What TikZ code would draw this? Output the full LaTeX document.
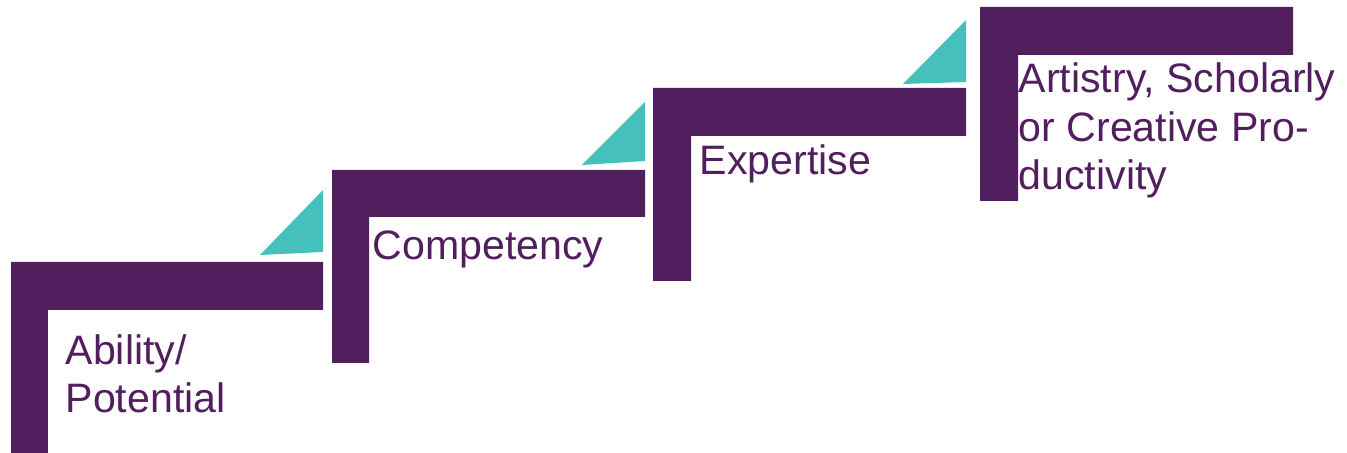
\documentclass[tikz,border=0pt]{standalone}
\usepackage{fontspec}
\setmainfont{Liberation Sans}

\definecolor{steppurple}{HTML}{521F5E}
\definecolor{stepteal}{HTML}{45C0BC}

\tikzset{
  stair/.style={fill=steppurple},
  riser/.style={fill=stepteal},
  steplabel/.style={anchor=base west, inner sep=0pt, align=left,
    text=steppurple, font=\fontsize{11.7}{13.9}\selectfont},
}

\begin{document}
\begin{tikzpicture}

\useasboundingbox (0,0) rectangle (13.47,4.53);

% step 1: ability
\fill[stair] (0.11,0) -- (0.11,1.91) -- (3.23,1.91) -- (3.23,1.43) -- (0.48,1.43) -- (0.48,0) -- cycle;
\fill[riser] (2.60,1.98) -- (3.23,2.63) -- (3.23,2.01) -- cycle;
\node[steplabel] (ability) at (0.65,0.40) {Ability/\\Potential};

% step 2: competency
\fill[stair] (3.32,0.90) -- (3.32,2.83) -- (6.45,2.83) -- (6.45,2.36) -- (3.69,2.36) -- (3.69,0.90) -- cycle;
\fill[riser] (5.82,2.88) -- (6.45,3.51) -- (6.45,2.92) -- cycle;
\node[steplabel] (competency) at (3.72,1.93) {Competency};

% step 3: expertise
\fill[stair] (6.53,1.72) -- (6.53,3.65) -- (9.66,3.65) -- (9.66,3.17) -- (6.91,3.17) -- (6.91,1.72) -- cycle;
\fill[riser] (9.03,3.69) -- (9.66,4.33) -- (9.66,3.71) -- cycle;
\node[steplabel] (expertise) at (6.99,2.78) {Expertise};

% step 4: productivity
\fill[stair] (9.80,2.52) -- (9.80,4.46) -- (12.93,4.46) -- (12.93,3.98) -- (10.18,3.98) -- (10.18,2.52) -- cycle;
\node[steplabel] (productivity) at (10.18,2.63) {Artistry, Scholarly\\or Creative Pro-\\ductivity};

\end{tikzpicture}
\end{document}
